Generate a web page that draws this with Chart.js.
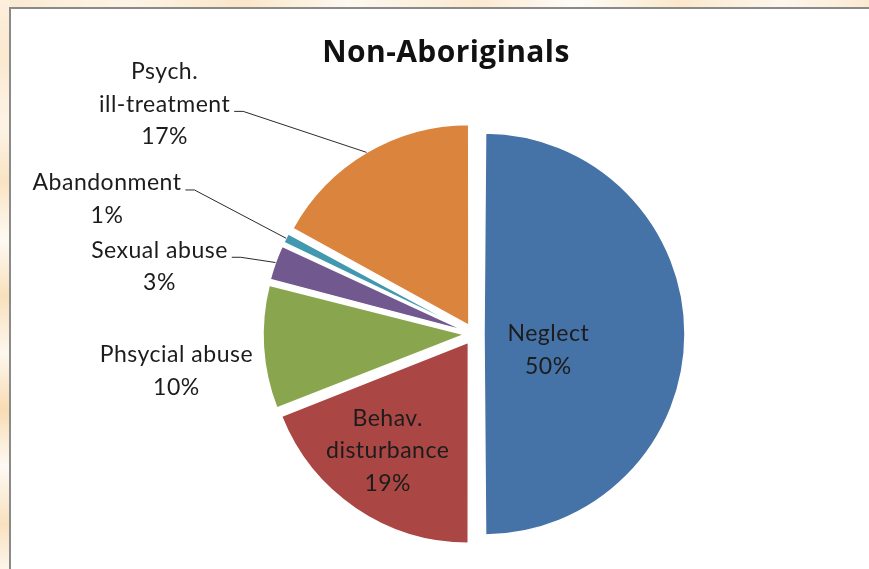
<!DOCTYPE html>
<html>
<head>
<meta charset="utf-8">
<title>Non-Aboriginals</title>
<script src="https://cdn.jsdelivr.net/npm/chart.js@4.4.0/dist/chart.umd.min.js"></script>
<style>
  html, body { margin: 0; padding: 0; }
  body { width: 869px; height: 569px; overflow: hidden; position: relative; background: #fdf5e8; }
  #stripTop {
    position: absolute; left: 0; top: 0; width: 869px; height: 8px;
    background: linear-gradient(90deg, #fbe9d0 0%, #fdf4e6 15%, #fae6c8 28%, #fdf8f0 40%, #fbe9d0 55%, #fefcf8 66%, #fbe8cc 78%, #fdf6ec 90%, #fbead2 100%);
  }
  #stripLeft {
    position: absolute; left: 0; top: 0; width: 10px; height: 569px;
    background: linear-gradient(180deg, #fcefdc 0%, #fbe9d0 10%, #fdf4e6 22%, #fae3c3 32%, #fefaf3 42%, #f9e0bc 52%, #fdf7ee 62%, #f8dcb4 72%, #fefaf4 82%, #f9e1bf 92%, #fdf5ea 100%);
  }
  #panel {
    position: absolute; left: 9px; top: 7px; width: 900px; height: 600px;
    background: #fff; border-top: 2px solid #8a8a8a; border-left: 2px solid #8a8a8a;
  }
  canvas { position: absolute; left: 0; top: 0; }
</style>
</head>
<body>
<div id="stripTop"></div>
<div id="stripLeft"></div>
<div id="panel"></div>
<canvas id="chartNonAboriginals" width="869" height="569"></canvas>
<script>
const chartTitle = "Non-Aboriginals";
const categories = ["Neglect", "Behav. disturbance", "Phsycial abuse", "Sexual abuse", "Abandonment", "Psych. ill-treatment"];
const percentValues = [50, 19, 10, 3, 1, 17];
const sliceColors = ["#4572a7", "#aa4643", "#89a54e", "#71588f", "#4198af", "#db843d"];

// where each label sits: k = fraction of radius along the slice middle, then a nudge
const labelPlacement = [
  { k: 0.33, shift: [-2, 16] },
  { k: 0.67, shift: [-5, -3] },
  { k: 1, shift: [-87, 24] },
  { k: 1, shift: [-116, 4], leaderRow: 0 },
  { k: 1, shift: [-179, -39], leaderRow: 0 },
  { k: 1, shift: [-202, -48], leaderRow: 1 },
];

const labelFont = "23px Lato";
const rowGap = 32.5;

function wrapLabel(name) {
  const parts = name.split(". ");
  return parts.map((p, i) => (i < parts.length - 1 ? p + "." : p));
}

const sliceLabels = {
  id: "sliceLabels",
  beforeDatasetsDraw(chart) {
    // chart.js makes half / tiny slices bigger when offset is set, keep them all the same size
    const meta = chart.getDatasetMeta(0);
    const R = meta.controller.outerRadius;
    meta.data.forEach((arc) => {
      const off = (arc.options.offset || 0) / 4;
      const fix = 1 - Math.sin(Math.min(Math.PI, arc.circumference));
      arc.outerRadius = R - off * fix;
    });
  },
  afterDatasetsDraw(chart) {
    const ctx = chart.ctx;
    const meta = chart.getDatasetMeta(0);
    const R = meta.controller.outerRadius;
    ctx.save();
    ctx.font = labelFont;
    ctx.letterSpacing = "0.5px";
    ctx.fillStyle = "#1c1c1c";
    ctx.strokeStyle = "#2a2a2a";
    ctx.lineWidth = 1;
    ctx.textAlign = "center";
    ctx.textBaseline = "middle";
    meta.data.forEach((arc, i) => {
      const place = labelPlacement[i];
      const mid = (arc.startAngle + arc.endAngle) / 2;
      const off = (arc.options.offset || 0) / 4;
      const ox = arc.x + Math.cos(mid) * off;
      const oy = arc.y + Math.sin(mid) * off;
      const ax = ox + Math.cos(mid) * R * place.k + place.shift[0];
      const ay = oy + Math.sin(mid) * R * place.k + place.shift[1];
      const lines = wrapLabel(categories[i]).concat(percentValues[i] + "%");
      const top = ay - (lines.length - 1) * rowGap / 2;
      lines.forEach((t, j) => ctx.fillText(t, ax, top + j * rowGap));
      if (place.leaderRow !== undefined) {
        const w = ctx.measureText(lines[place.leaderRow]).width;
        const sx = ax + w / 2 + 4;
        const sy = top + place.leaderRow * rowGap + 7;
        ctx.beginPath();
        ctx.moveTo(sx, sy);
        ctx.lineTo(sx + 9, sy);
        ctx.lineTo(ox + Math.cos(mid) * R, oy + Math.sin(mid) * R);
        ctx.stroke();
      }
    });
    ctx.restore();
  },
  afterDraw(chart) {
    const ctx = chart.ctx;
    ctx.save();
    ctx.font = "bold 30px 'Open Sans'";
    ctx.letterSpacing = "0.4px";
    ctx.fillStyle = "#111";
    ctx.textAlign = "center";
    ctx.textBaseline = "alphabetic";
    ctx.fillText(chartTitle, 446, 62);
    ctx.restore();
  },
};

const ctx = document.getElementById("chartNonAboriginals").getContext("2d");
const myChart = new Chart(ctx, {
  type: "pie",
  data: {
    labels: categories,
    datasets: [
      {
        data: percentValues,
        backgroundColor: sliceColors,
        borderColor: "#ffffff",
        borderWidth: 1.5,
        offset: 40,
        radius: 201,
      },
    ],
  },
  options: {
    responsive: false,
    animation: false,
    layout: { padding: { left: 254, right: 175, top: 114, bottom: 15 } },
    plugins: {
      legend: { display: false },
      tooltip: { enabled: false },
      title: { display: false },
    },
  },
  plugins: [sliceLabels],
});
</script>
</body>
</html>
